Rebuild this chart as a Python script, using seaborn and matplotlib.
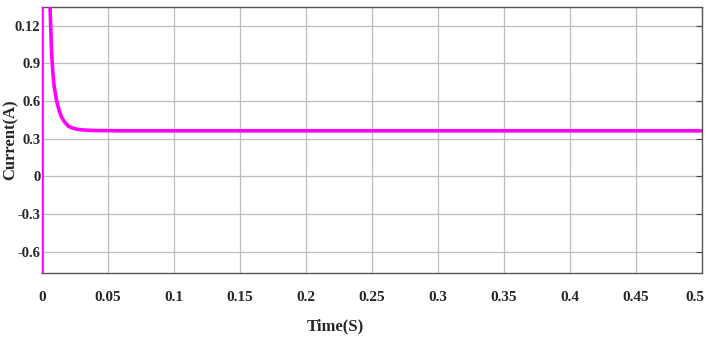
import matplotlib
matplotlib.use("Agg")
import matplotlib.pyplot as plt
import matplotlib.transforms as mtransforms
import seaborn as sns
import pandas as pd

# ---------------------------
# Data
# ---------------------------
time_s = [0.0, 0.0, 0.0050, 0.0061, 0.0066, 0.0073, 0.0083, 0.0093, 0.0111,
          0.0130, 0.0149, 0.0170, 0.0199, 0.0230, 0.0273, 0.0330, 0.040,
          0.06, 0.1, 0.2, 0.3, 0.4, 0.5]
current_a = [-0.9, 1.5, 1.6, 1.35, 1.2, 0.98, 0.82, 0.71, 0.60,
             0.525, 0.47, 0.435, 0.40, 0.385, 0.374, 0.368, 0.365,
             0.363, 0.363, 0.363, 0.363, 0.363, 0.363]

x_ticks = [0, 0.05, 0.1, 0.15, 0.2, 0.25, 0.3, 0.35, 0.4, 0.45, 0.5]
x_labels = ["0", "0.05", "0.1", "0.15", "0.2", "0.25", "0.3", "0.35", "0.4", "0.45", "0.5"]
y_ticks = [1.2, 0.9, 0.6, 0.3, 0, -0.3, -0.6]
y_labels = ["0.12", "0.9", "0.6", "0.3", "0", "-0.3", "-0.6"]

df = pd.DataFrame({"Time": time_s, "Current": current_a})

# ---------------------------
# Plot
# ---------------------------
sns.set_style("white")
plt.rcParams["font.family"] = ["Liberation Serif", "DejaVu Serif"]

fig = plt.figure(figsize=(7.09, 3.43), dpi=100)
ax = fig.add_axes([0.0592, 0.204, 0.931, 0.776])

sns.lineplot(data=df, x="Time", y="Current", sort=False, estimator=None,
             color="#ff00ff", linewidth=2.6, ax=ax, zorder=5)

ax.set_xlim(0, 0.5)
ax.set_ylim(-0.77, 1.35)
ax.set_xticks(x_ticks)
ax.set_xticklabels(x_labels, fontweight="bold", fontsize=11)
ax.set_yticks(y_ticks)
ax.set_yticklabels(y_labels, fontweight="bold", fontsize=10.5)

ax.grid(True, color="#bdbdbd", linewidth=0.9)
ax.tick_params(axis="x", direction="in", length=0, pad=13)
ax.tick_params(axis="y", direction="in", length=0, pad=1)
ax.tick_params(right=True, labelright=False, length=4, color="#444444")

# last x label sits right at the figure edge - nudge it in a little
last = ax.get_xticklabels()[-1]
last.set_transform(last.get_transform() + mtransforms.ScaledTranslation(-5 / 72, 0, fig.dpi_scale_trans))

for sp in ax.spines.values():
    sp.set_color("#555555")
    sp.set_linewidth(1.0)

ax.set_xlabel("Time(S)", fontweight="bold", fontsize=12)
ax.set_ylabel("Current(A)", fontweight="bold", fontsize=12)
ax.xaxis.set_label_coords(0.444, -0.17)
ax.yaxis.set_label_coords(-0.036, 0.5)

fig.savefig("out.png", dpi=100)
